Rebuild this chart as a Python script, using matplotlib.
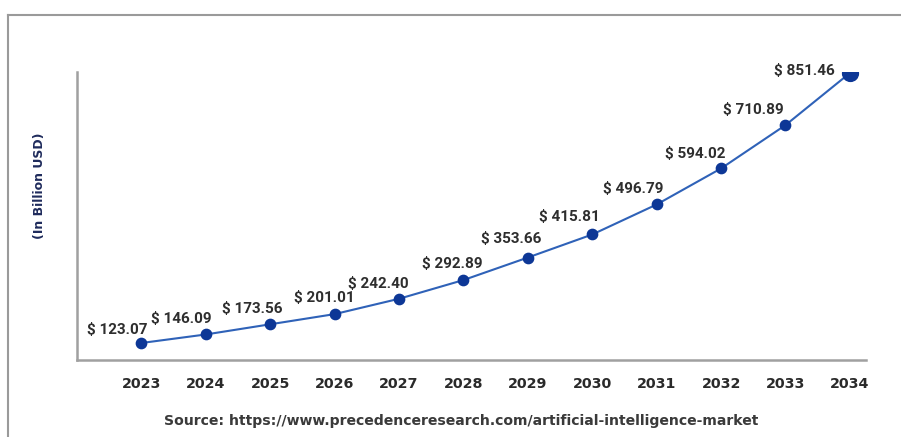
import matplotlib
matplotlib.use("Agg")
import matplotlib.pyplot as plt
from matplotlib.lines import Line2D

years = [2023, 2024, 2025, 2026, 2027, 2028, 2029, 2030, 2031, 2032, 2033, 2034]
values = [123.07, 146.09, 173.56, 201.01, 242.40, 292.89, 353.66, 415.81, 496.79, 594.02, 710.89, 851.46]
ylabel = "(In Billion USD)"
source = "Source: https://www.precedenceresearch.com/artificial-intelligence-market"

# label offsets (pixels) relative to each point
label_dx = [-24, -25, -18, -10, -21, -11, -17, -23, -23, -26, -32, -46]
label_dy = [13, 15, 15, 16, 15, 16, 19, 17, 15, 14, 15, 2]

W, H = 901, 437
fig = plt.figure(figsize=(W / 100, H / 100), dpi=100)
fig.patch.set_facecolor("white")

left, right, bottom, top = 77, 866, 360, 72
ax = fig.add_axes([left / W, 1 - bottom / H, (right - left) / W, (bottom - top) / H])

line_col = "#2f62b8"
mark_col = "#0d3796"
ax.plot(years, values, color=line_col, lw=1.5, zorder=2)
ax.scatter(years[:-1], values[:-1], s=55, color=mark_col, zorder=3)
ax.scatter(years[-1:], values[-1:], s=130, color=mark_col, zorder=3)

for x, v, dx, dy in zip(years, values, label_dx, label_dy):
    ax.annotate(f"$ {v:.2f}", (x, v), xytext=(dx * 0.72, dy * 0.72), textcoords="offset points",
                ha="center", va="center", fontsize=11, fontweight="bold",
                color="#2e2e2e", family="Roboto")

ax.set_xlim(2022.0, 2034.25)
ax.set_ylim(77.2, 854.2)
ax.set_xticks(years)
ax.set_xticklabels([str(y) for y in years], fontsize=10.3, fontweight="bold", color="#2a2a2a")
ax.tick_params(axis="x", length=0, pad=12)
ax.set_yticks([])
for s in ["top", "right"]:
    ax.spines[s].set_visible(False)
for s in ["left", "bottom"]:
    ax.spines[s].set_color("#a0a0a0")
    ax.spines[s].set_linewidth(1.8)

fig.text(40 / W, 1 - 186 / H, ylabel, rotation=90, ha="center", va="center",
         fontsize=9, fontweight="bold", color="#1f2b5c")
fig.text(461 / W, 1 - 421 / H, source, ha="center", va="center",
         fontsize=10.1, fontweight="bold", color="#3a3a3a")

# outer frame lines
fig.add_artist(Line2D([8 / W, 1.0], [1 - 15 / H, 1 - 15 / H], color="#9a9a9a", lw=1.5))
fig.add_artist(Line2D([8 / W, 8 / W], [0, 1 - 15 / H], color="#9a9a9a", lw=1.5))

fig.savefig("out.png", dpi=100)
